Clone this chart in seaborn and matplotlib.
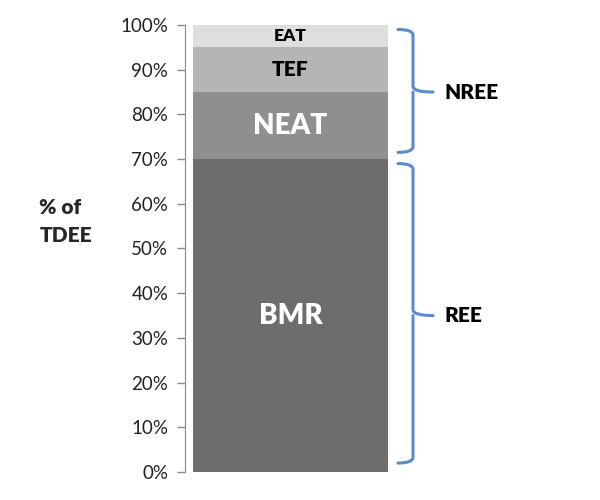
import matplotlib
matplotlib.use("Agg")
import matplotlib.pyplot as plt
import seaborn as sns
import numpy as np
from matplotlib.path import Path
from matplotlib.patches import PathPatch
from matplotlib.transforms import blended_transform_factory

# components of TDEE, bottom to top (percent)
components = ["BMR", "NEAT", "TEF", "EAT"]
shares = [70, 15, 10, 5]
colors = ["#6d6d6d", "#8f8f8f", "#b5b5b5", "#dedede"]
text_colors = ["white", "white", "black", "black"]
text_sizes = [20, 20, 15, 12.5]

groups = ["NREE", "REE"]
group_spans = [(70, 100), (0, 70)]

yticks = [0, 10, 20, 30, 40, 50, 60, 70, 80, 90, 100]

sns.set_style("white")
plt.rcParams["font.family"] = ["Lato", "DejaVu Sans"]

fig = plt.figure(figsize=(6, 5), dpi=100)
ax = fig.add_axes([185 / 600, 28 / 500, 211 / 600, 447 / 500])

tops = np.cumsum(shares)
# draw from the tallest stack down so each layer shows
for i in range(len(components) - 1, -1, -1):
    sns.barplot(x=[""], y=[tops[i]], color=colors[i], width=0.925,
                saturation=1, linewidth=0, ax=ax)

bottoms = tops - np.array(shares)
for name, b, s, tc, fs in zip(components, bottoms, shares, text_colors, text_sizes):
    ax.text(0, b + s / 2, name, ha="center", va="center", color=tc,
            fontsize=fs, fontweight="heavy")

ax.set_xlim(-0.5, 0.5)
ax.set_ylim(0, 100)
ax.set_yticks(yticks)
ax.set_yticklabels([f"{t}%" for t in yticks], fontsize=13.5, color="#222222")
ax.set_xticks([])
ax.set_xlabel("")
ax.tick_params(axis="y", direction="out", length=6, width=1, color="#8a8a8a",
               left=True, pad=6)
for side in ["top", "right", "bottom"]:
    ax.spines[side].set_visible(False)
ax.spines["left"].set_color("#8a8a8a")
ax.set_ylabel("% of\nTDEE", rotation=0, fontsize=15, fontweight="heavy",
              ha="left", va="center", labelpad=0, linespacing=1.6)
ax.yaxis.set_label_coords(-0.69, 0.56)

# curly brackets on the right
trans = blended_transform_factory(ax.transAxes, ax.transData)
def px(x):
    return (x - 185) / 211

brace_color = "#5b8bc8"
for name, (lo, hi) in zip(groups, group_spans):
    y0 = lo + (2 if lo == 0 else 1.5)
    y1 = hi - 1
    ym = (lo + hi) / 2
    xa, xv, xt = px(398), px(413), px(433)
    r = 1.3
    verts = [(xa, y1), (xv, y1), (xv, y1 - r),
             (xv, ym + r), (xv, ym), (xt, ym),
             (xv, ym), (xv, ym - r),
             (xv, y0 + r), (xv, y0), (xa, y0)]
    codes = [Path.MOVETO, Path.CURVE3, Path.CURVE3,
             Path.LINETO, Path.CURVE3, Path.CURVE3,
             Path.MOVETO, Path.LINETO,
             Path.LINETO, Path.CURVE3, Path.CURVE3]
    patch = PathPatch(Path(verts, codes), facecolor="none", edgecolor=brace_color,
                      linewidth=2.2, transform=trans, clip_on=False,
                      capstyle="round", joinstyle="round")
    ax.add_patch(patch)
    ax.text(px(445), ym, name, transform=trans, ha="left", va="center",
            fontsize=15, fontweight="heavy", color="black")

fig.savefig("out.png", dpi=100)
